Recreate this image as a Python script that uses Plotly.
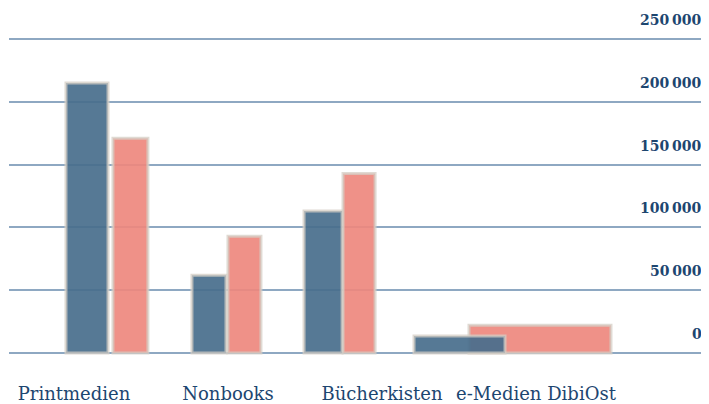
import plotly.graph_objects as go

categories = ["Printmedien", "Nonbooks", "Bücherkisten", "e-Medien DibiOst"]
series_blue = [215000, 62000, 113000, 13500]
series_salmon = [171000, 93000, 143000, 22000]
tick_values = [0, 50000, 100000, 150000, 200000, 250000]
tick_labels = ["0", "50\u2009000", "100\u2009000", "150\u2009000", "200\u2009000", "250\u2009000"]

NAVY = "#1d4670"
EDGE = "rgba(212,205,196,0.75)"

fig = go.Figure()
fig.add_trace(go.Bar(
    x=categories, y=series_salmon, name="salmon",
    marker=dict(color="rgba(238,136,126,0.92)", line=dict(color=EDGE, width=3)),
    offset=[0.253, 0.0, -0.253, -0.435],
    width=[0.227, 0.214, 0.208, 0.922],
    hoverinfo="x+y",
))
fig.add_trace(go.Bar(
    x=categories, y=series_blue, name="blue",
    marker=dict(color="rgba(72,110,140,0.92)", line=dict(color=EDGE, width=3)),
    offset=[-0.052, -0.234, -0.506, -0.792],
    width=[0.273, 0.221, 0.247, 0.591],
    hoverinfo="x+y",
))

for v, t in zip(tick_values, tick_labels):
    fig.add_annotation(
        x=1, xref="paper", y=v, yref="y",
        text=t, showarrow=False,
        xanchor="right", yanchor="bottom",
        xshift=-2, yshift=9,
        font=dict(family="DejaVu Serif", size=14, color=NAVY, weight="bold"),
    )

# page body has an 8px default margin, so the figure is sized to fit inside the window
fig.update_layout(
    width=701, height=396,
    margin=dict(l=1, r=3, t=28, b=48),
    paper_bgcolor="white", plot_bgcolor="white",
    barmode="overlay",
    showlegend=False,
    font=dict(family="DejaVu Serif", color=NAVY),
)
fig.update_xaxes(
    type="category",
    range=[-0.422, 4.104],
    showgrid=False, showline=False, zeroline=False,
    ticks="", tickfont=dict(family="DejaVu Serif", size=18, color=NAVY),
    ticklabelstandoff=25,
    automargin=False,
)
fig.update_yaxes(
    range=[-2389, 252389],
    tickvals=tick_values,
    showticklabels=False,
    showgrid=True, gridcolor="#8ea8c2", gridwidth=1.5,
    zeroline=False, showline=False, ticks="",
    automargin=False,
)
fig.write_html("out.html")
